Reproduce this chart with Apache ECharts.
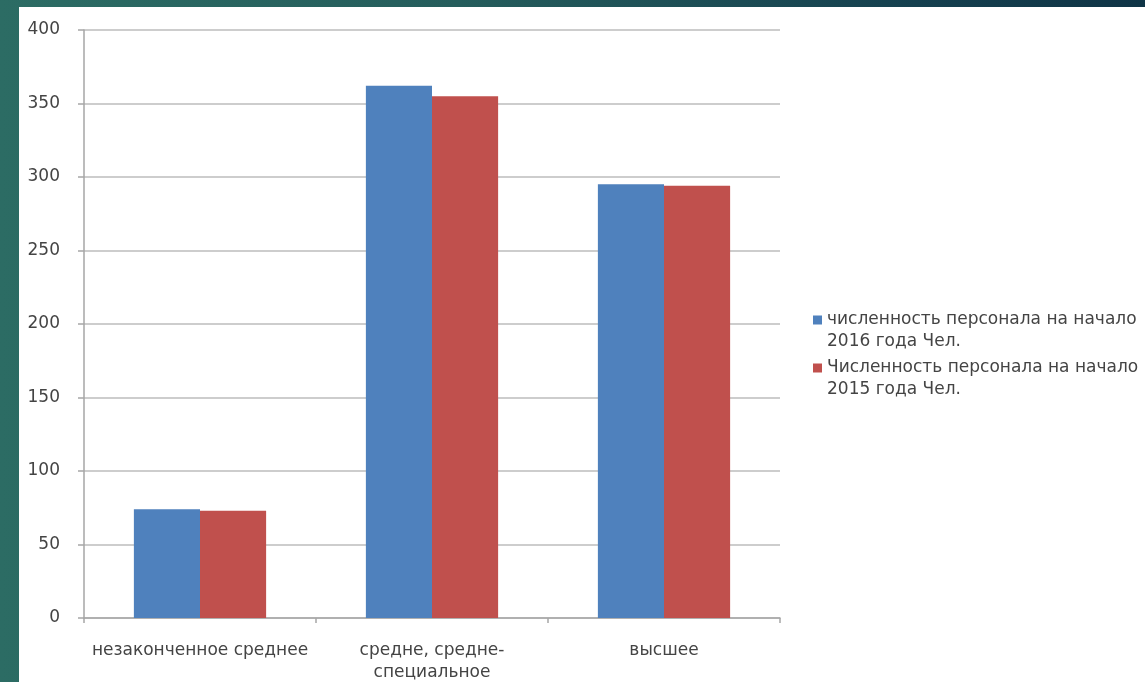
<!DOCTYPE html>
<html>
<head>
<meta charset="utf-8">
<script src="https://cdn.jsdelivr.net/npm/echarts@6/dist/echarts.min.js"></script>
<style>
  html, body { margin: 0; padding: 0; width: 1145px; height: 682px; overflow: hidden;
    background: linear-gradient(to right, #2c6c64 0%, #255d5c 40%, #15404f 80%, #0f3446 100%); }
  #panel { position: absolute; left: 19px; top: 7px; width: 1126px; height: 675px; background: #ffffff; }
  #chart { position: absolute; left: 0; top: 0; width: 1145px; height: 682px; }
</style>
</head>
<body>
<div id="panel"></div>
<div id="chart"></div>
<script>
const categories = ['незаконченное среднее', 'средне, средне-специальное', 'высшее'];
const seriesNames = ['численность персонала на начало 2016 года Чел.', 'Численность персонала на начало 2015 года Чел.'];
const values2016 = [74, 362, 295];
const values2015 = [73, 355, 294];
const yTicks = { min: 0, max: 400, interval: 50 };

const FONT = '"DejaVu Sans", Verdana, sans-serif';
const TXT = '#444444';

const chart = echarts.init(document.getElementById('chart'), null, { renderer: 'canvas' });
chart.setOption({
  backgroundColor: 'transparent',
  animation: false,
  textStyle: { fontFamily: FONT },
  grid: { left: 84, right: 365, top: 30, bottom: 64, containLabel: false, outerBoundsMode: 'none' },
  legend: {
    orient: 'vertical',
    left: 813,
    top: 287,
    padding: 0,
    itemWidth: 9,
    itemHeight: 9,
    itemGap: -18,
    icon: 'rect',
    formatter: function (name) { return ' \n' + name.replace('начало ', 'начало\n'); },
    textStyle: { fontFamily: FONT, fontSize: 17, color: TXT, lineHeight: 22 }
  },
  xAxis: {
    type: 'category',
    data: categories,
    axisLine: { show: true, lineStyle: { color: '#a6a6a6', width: 1.5 } },
    axisTick: { show: true, length: 5, lineStyle: { color: '#a6a6a6', width: 1.5 } },
    axisLabel: {
      fontFamily: FONT, fontSize: 17, color: TXT, lineHeight: 22, margin: 22, interval: 0,
      formatter: function (v) { return v.replace('средне-с', 'средне-\nс'); }
    },
    splitLine: { show: false }
  },
  yAxis: {
    type: 'value',
    min: yTicks.min, max: yTicks.max, interval: yTicks.interval,
    axisLine: { show: true, lineStyle: { color: '#a6a6a6', width: 1.5 } },
    axisTick: { show: true, length: 6, lineStyle: { color: '#a6a6a6', width: 1.5 } },
    axisLabel: { fontFamily: FONT, fontSize: 17, color: TXT, margin: 24 },
    splitLine: { show: true, lineStyle: { color: '#bdbdbd', width: 1.6 } }
  },
  series: [
    { name: seriesNames[0], type: 'bar', data: values2016, barGap: '0%', barCategoryGap: '43%',
      itemStyle: { color: '#4f81bd' } },
    { name: seriesNames[1], type: 'bar', data: values2015, barGap: '0%', barCategoryGap: '43%',
      itemStyle: { color: '#c0504d' } }
  ]
});
</script>
</body>
</html>
